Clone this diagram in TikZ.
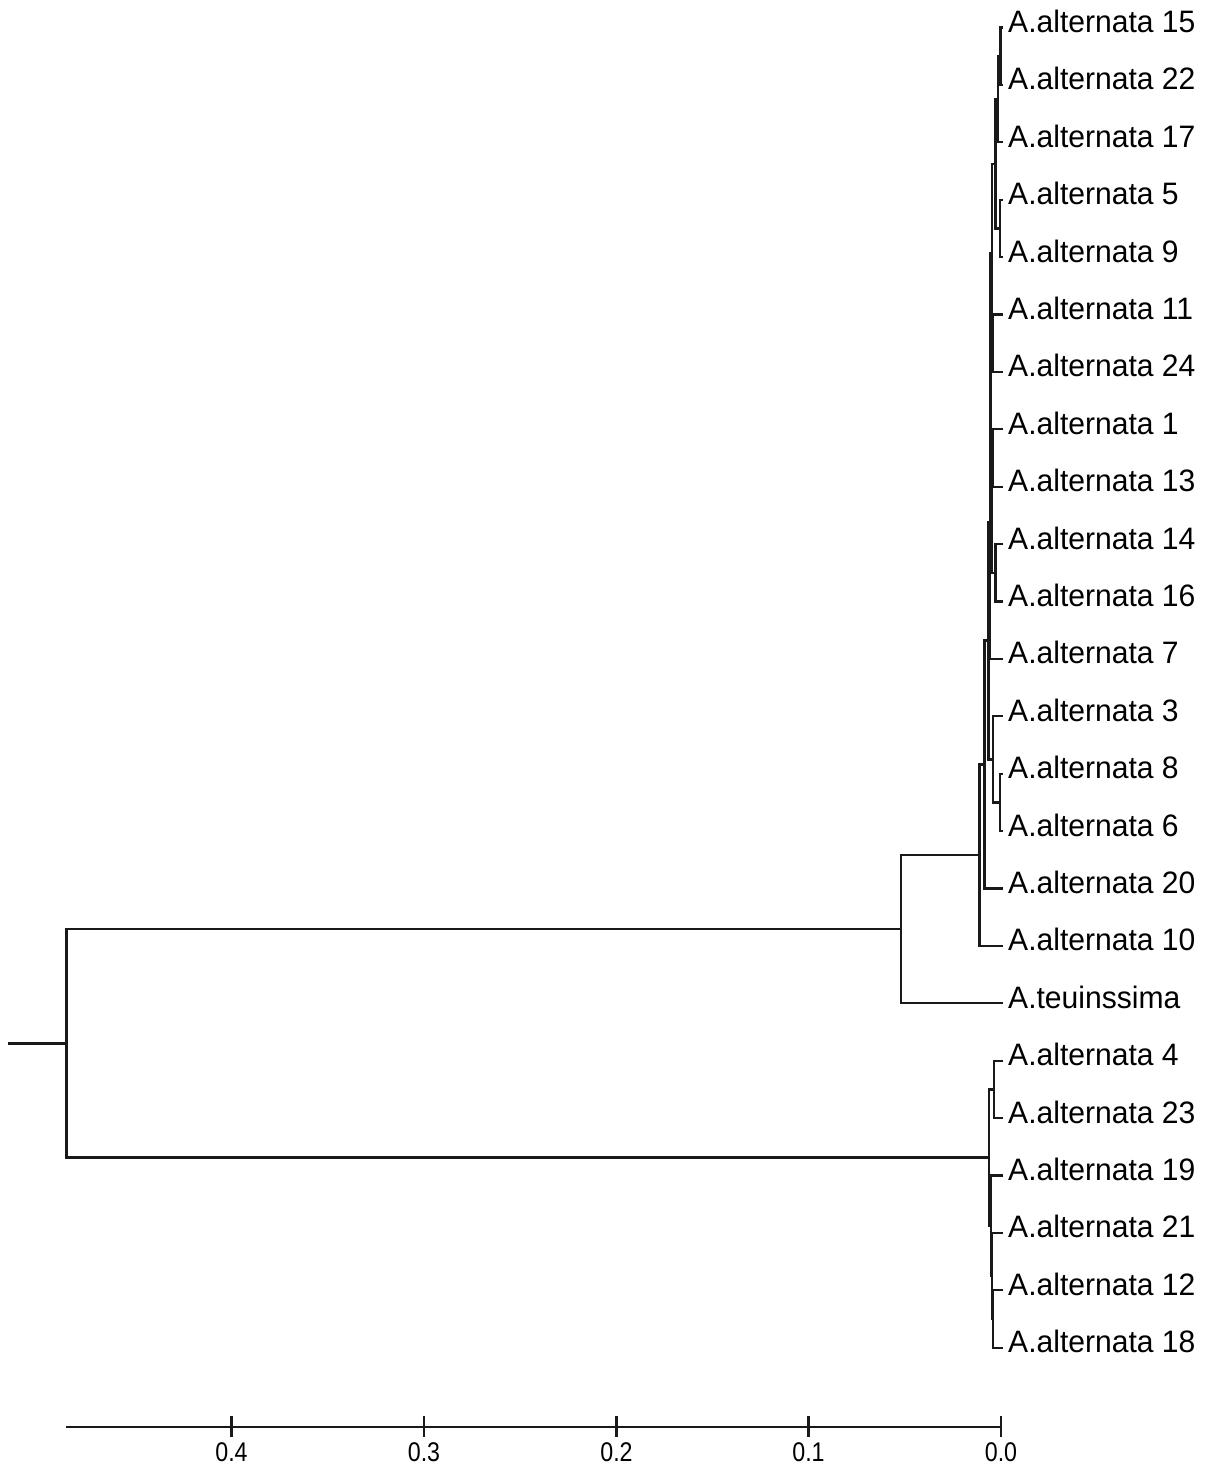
\documentclass[tikz,border=0pt]{standalone}
\usepackage{fontspec}
\setmainfont{Liberation Sans}
\begin{document}
\begin{tikzpicture}[x=1pt,y=-1pt,
  br/.style={line width=2.3pt, draw=black!90},
  leaflbl/.style={anchor=base west, inner sep=0pt, font=\fontsize{31}{31}\selectfont},
  axl/.style={anchor=base, inner sep=0pt, font=\fontsize{27}{27}\selectfont},
  axisline/.style={line width=2.3pt, draw=black!90}]
\useasboundingbox (0,0) rectangle (1205,1466);
% leaves: name / y / label
\foreach \n/\y/\t in {
  l15/27.5/A.alternata 15, l22/84.9/A.alternata 22, l17/142.3/A.alternata 17,
  l5/199.7/A.alternata 5, l9/257.1/A.alternata 9, l11/314.5/A.alternata 11,
  l24/371.9/A.alternata 24, l1/429.3/A.alternata 1, l13/486.7/A.alternata 13,
  l14/544.1/A.alternata 14, l16/601.5/A.alternata 16, l7/658.9/A.alternata 7,
  l3/716.3/A.alternata 3, l8/773.7/A.alternata 8, l6/831.1/A.alternata 6,
  l20/888.5/A.alternata 20, l10/945.9/A.alternata 10, lteu/1003.3/A.teuinssima,
  l4/1060.7/A.alternata 4, l23/1118.1/A.alternata 23, l19/1175.5/A.alternata 19,
  l21/1232.9/A.alternata 21, l12/1290.3/A.alternata 12, l18/1347.7/A.alternata 18}
{
  \coordinate (\n) at (1003,\y);
  \node[leaflbl] (txt\n) at (1008,\y+5) {\scalebox{0.97}[1]{\t}};
}
% internal nodes
\coordinate (c1) at (1000.5,56.2);
\coordinate (c2) at (998,99.25);
\coordinate (c3) at (1000,228.4);
\coordinate (c4) at (995.5,163.8);
\coordinate (c5) at (993,343.2);
\coordinate (c6) at (992,253.5);
\coordinate (c7) at (993,458);
\coordinate (c8) at (995.5,572.8);
\coordinate (c9) at (992,515.4);
\coordinate (c10) at (990.5,384.45);
\coordinate (n1) at (990,521.7);
\coordinate (c11) at (1000,802.4);
\coordinate (c12) at (993,759.35);
\coordinate (n2) at (988.5,640.5);
\coordinate (n3) at (984.5,764.5);
\coordinate (n4) at (979.5,855.2);
\coordinate (n5) at (901,929.25);
\coordinate (b1) at (994,1089.4);
\coordinate (b2) at (993,1319);
\coordinate (b3) at (992,1275.95);
\coordinate (b4) at (991,1225.7);
\coordinate (b5) at (989,1157.55);
\coordinate (root) at (66.5,1043.4);
\coordinate (stub) at (7.5,1043.4);
% joins
\foreach \p/\a/\b in {c1/l15/l22, c2/c1/l17, c3/l5/l9, c4/c2/c3, c5/l11/l24,
  c6/c4/c5, c7/l1/l13, c8/l14/l16, c9/c7/c8, c10/c6/c9, n1/c10/l7,
  c11/l8/l6, c12/l3/c11, n2/n1/c12, n3/n2/l20, n4/n3/l10, n5/n4/lteu,
  b1/l4/l23, b2/l12/l18, b3/l21/b2, b4/l19/b3, b5/b1/b4, root/n5/b5}
{
  \draw[br] (\a) -| (\p) |- (\b);
}
\draw[br] (stub) -- (root);
% axis
\coordinate (ax0) at (66,1427);
\coordinate (ax1) at (1001,1427);
\draw[axisline] (ax0) -- (ax1);
\foreach \x/\v in {231.5/0.4, 424/0.3, 616.5/0.2, 808.5/0.1, 1001/0.0}
{
  \draw[axisline] (\x,1416) -- (\x,1437);
  \node[axl] (ax\v) at (\x,1461) {\scalebox{0.86}[1]{\v}};
}
\end{tikzpicture}
\end{document}
